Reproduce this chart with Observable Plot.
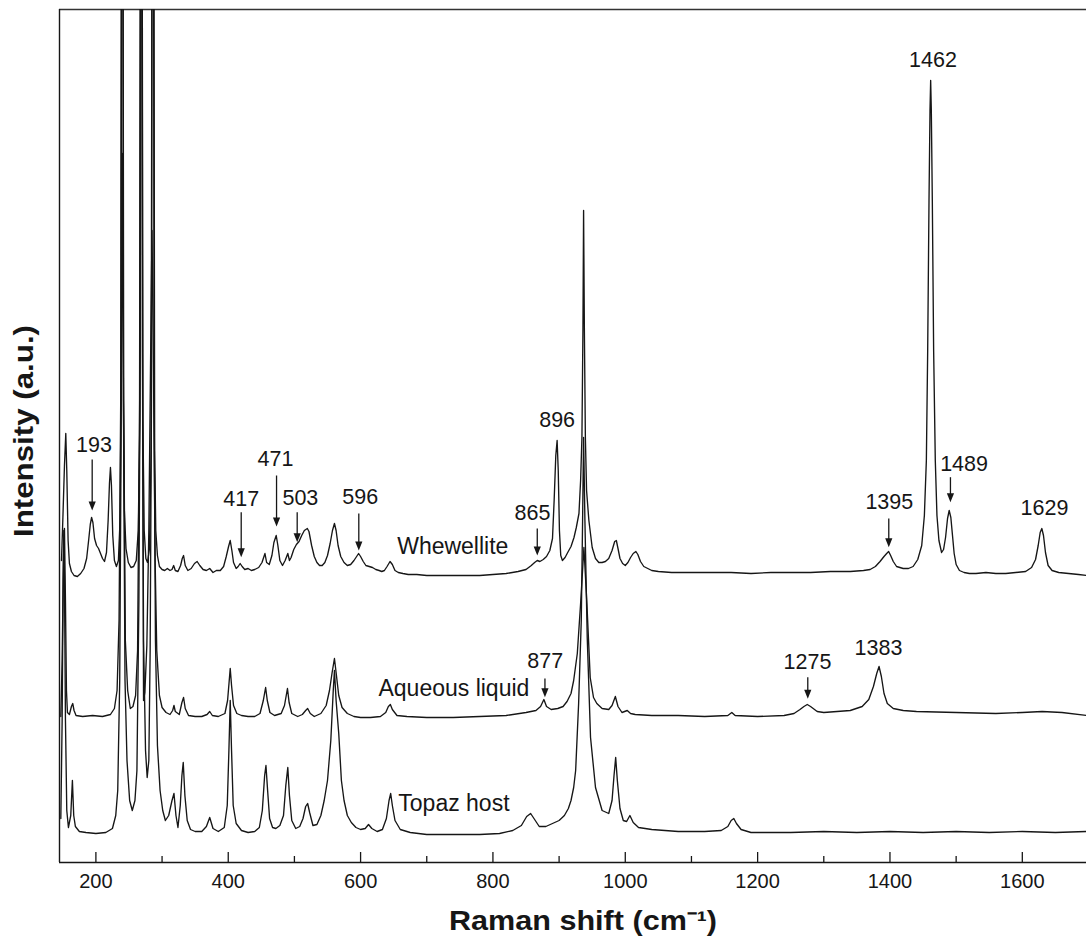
<!DOCTYPE html>
<html><head><meta charset="utf-8">
<script src="https://cdn.jsdelivr.net/npm/d3@7"></script>
<script src="https://cdn.jsdelivr.net/npm/@observablehq/plot@0.6"></script>
<style>body{margin:0;background:#fff;} #chart svg{display:block;}</style>
</head><body><div id="chart"></div>
<script>
// Raman spectra, [wavenumber (cm-1), intensity (a.u., stacked)]
const whewellite = [[148,302],[150,342],[152.5,397],[154.5,429],[156,392],[158,322],[160,299],[163,291],[167,287],[172,286],[177,289],[182,294],[186,304],[189,322],[191.5,338],[193.5,345],[195.5,340],[198,324],[201,317],[204,314],[207,309],[210,304],[213,301],[216,310],[218.5,342],[220.5,379],[222,395],[223.5,377],[225.5,327],[228,302],[231,296],[234,302],[236.5,342],[238,462],[239.8,1600],[241.6,462],[243,352],[245.5,314],[249,300],[253,295],[257,296],[261,302],[264,332],[266.5,442],[268.7,1600],[271,442],[273,332],[275.5,304],[278,300],[281,314],[283.5,412],[286.3,1600],[288.8,412],[290.5,332],[293,307],[296,296],[300,293],[304,292],[308,294],[312,292],[315,293],[317.5,297],[320,292],[324,291],[328,297],[330.5,304],[332.5,307],[335,297],[339,292],[344,294],[349,299],[353,301],[357,297],[362,293],[367,292],[372,294],[377,290],[382,292],[388,292],[393,296],[397,306],[400.5,316],[403,322],[405.5,312],[408,300],[412,294],[415,296],[418,299],[421,296],[425,293],[430,294],[435,292],[440,293],[446,295],[451,300],[455.5,309],[458,300],[462,298],[466,307],[469,320],[472.5,327],[475,317],[478,302],[482,297],[486,302],[490,309],[492.5,302],[495,305],[499,313],[503,318],[507,321],[511,327],[515,332],[519.5,334],[522,331],[526,317],[530,306],[534,300],[538,297],[542,297],[546,300],[550,307],[554,319],[557.5,332],[560.5,339],[563,332],[566,317],[570,306],[575,300],[580,297],[585,298],[590,302],[594,306],[597,309],[600,306],[604,301],[608,297],[613,296],[618,295],[623,293],[628,292],[632,291],[636,292],[640,296],[644.5,301],[648,298],[652,292],[657,290],[664,289],[672,288],[685,288],[700,287],[720,287],[740,287],[760,287],[780,287],[800,288],[820,289],[838,291],[850,293],[858,297],[863,300],[867,302],[871,301],[876,303],[881,306],[886,312],[890,324],[892.5,362],[895,407],[897,422],[898.7,392],[900.5,332],[902.5,307],[905,302],[909,305],[913,310],[918,316],[922.5,325],[926,335],[930,349],[932.5,382],[934.5,425],[936,532],[937,652],[938.2,532],[939.7,425],[941.5,372],[945,342],[950,315],[955,304],[960,300],[965,300],[970,301],[975,304],[980,312],[984,321],[986.5,322],[989,314],[992,304],[996,299],[1000,297],[1004,300],[1008,305],[1012,309],[1016,311],[1019,308],[1023,301],[1028,296],[1034,294],[1040,292],[1050,291],[1070,290],[1100,290],[1130,290],[1160,290],[1190,289],[1220,290],[1250,290],[1280,290],[1310,291],[1340,291],[1360,292],[1370,293],[1378,296],[1385,301],[1391,306],[1395,309],[1398,311],[1401,307],[1405,301],[1410,296],[1415,295],[1420,294],[1428,294],[1435,296],[1442,303],[1448,317],[1452,347],[1455,402],[1457,512],[1459,662],[1460.5,752],[1461.5,782],[1462.5,752],[1464,662],[1466,512],[1468.5,402],[1471,347],[1474,322],[1478,310],[1481,313],[1484,325],[1487,344],[1489.5,352],[1492,345],[1494.5,327],[1497,309],[1500,298],[1505,292],[1512,290],[1520,289],[1530,289],[1545,290],[1560,289],[1575,289],[1590,290],[1605,291],[1614,295],[1620,303],[1624,317],[1627,330],[1629.5,334],[1632,327],[1635,310],[1639,297],[1645,292],[1655,290],[1670,289],[1685,288],[1697,287]];

const aqueous = [[147,146],[149,202],[151,302],[152.5,334],[154,262],[155.5,172],[157,150],[160,148],[163,156],[165,159],[167,152],[170,147],[180,146],[195,147],[210,146],[222,148],[228,154],[232,172],[235,242],[237.5,462],[239.8,1600],[242,462],[244.5,222],[248,172],[252,154],[256,156],[260,167],[263,212],[266,462],[268.7,1600],[270.7,462],[272,162],[274,170],[277,217],[280,332],[282.5,492],[284.8,632],[287,492],[289.5,302],[292,212],[296,167],[300,155],[306,150],[312,148],[316,152],[318,157],[320,151],[326,148],[330,160],[332.5,165],[335,154],[340,147],[350,146],[360,146],[368,148],[372,151],[376,147],[385,146],[395,149],[399,162],[401.5,182],[403,194],[405,177],[408,157],[413,149],[420,147],[430,146],[440,146],[448,149],[453,162],[456.5,175],[459,162],[463,150],[470,147],[480,149],[485,157],[489.5,174],[492,160],[496,149],[505,146],[512,148],[517,152],[520,154],[524,149],[530,146],[540,149],[548,157],[553,172],[557,190],[560.5,204],[563,190],[567,167],[572,155],[580,149],[590,146],[600,145],[615,145],[630,146],[638,150],[642,156],[645,158],[648,153],[655,147],[670,146],[700,145],[740,145],[780,146],[820,147],[850,150],[865,152],[872,156],[877,163],[881,156],[888,153],[898,154],[906,156],[912,161],[918,169],[922,182],[927.5,209],[932.5,259],[937.5,315],[942,259],[947,185],[952,165],[957,159],[965,154],[975,153],[980,157],[985,166],[989,156],[995,150],[1003,152],[1008,149],[1015,148],[1040,147],[1080,147],[1120,146],[1155,147],[1161,150],[1166,147],[1200,146],[1240,147],[1255,149],[1264,153],[1270,156],[1275,158],[1280,156],[1290,151],[1300,150],[1320,151],[1340,152],[1358,156],[1368,163],[1375,176],[1380,189],[1383.5,196],[1387,186],[1391,169],[1396,159],[1405,154],[1420,152],[1440,151],[1500,150],[1560,149],[1600,150],[1630,151],[1660,150],[1697,147]];

const topaz = [[147,44],[149,142],[150.5,282],[151.5,332],[152.5,282],[154,142],[156,52],[158.5,35],[162,47],[164.5,82],[166.5,47],[169,36],[175,31],[185,30],[200,29],[215,30],[225,34],[230,47],[233,72],[236,182],[238,412],[240,709],[242,412],[244,182],[247,102],[251,62],[255,52],[259,62],[262,92],[265,262],[267,512],[268.7,1600],[270.3,512],[272,222],[275,112],[277.5,85],[280,102],[282,212],[284,462],[286,1600],[288,462],[290,222],[293,117],[297,72],[301,52],[305,42],[310,47],[315,62],[318,69],[321,47],[324,35],[327.5,57],[330,87],[332,100],[334.5,67],[338,42],[343,33],[350,31],[360,31],[367,36],[372,45],[377,34],[385,31],[394,35],[398.5,57],[401,112],[403,162],[405,112],[407.5,57],[412,39],[420,32],[430,30],[440,31],[447,35],[451.5,52],[455,87],[457,97],[459.5,72],[462.5,44],[467,35],[472,34],[478,37],[483.5,47],[487,77],[490,95],[492.5,67],[496,42],[502,34],[508,36],[513,44],[517,56],[520,59],[523,50],[528,37],[534,38],[540,47],[545,62],[550,82],[555,122],[558.7,172],[560.5,192],[563,162],[567,129],[571,82],[575,62],[580,47],[586,40],[593,35],[600,33],[607,34],[612,38],[617,34],[625,31],[633,33],[639,44],[643,62],[645.5,69],[648,57],[652,42],[660,33],[675,30],[700,28],[740,28],[780,28],[810,29],[830,32],[843,37],[851,46],[857,49],[863,43],[870,36],[880,36],[890,39],[900,42],[908,47],[914,54],[918,62],[922,75],[925,92],[929.5,159],[933.5,242],[935.5,342],[937,425],[939,342],[942.5,225],[947.5,125],[955,75],[965,52],[975,49],[980,62],[983,87],[985.5,105],[988,82],[992,54],[997,42],[1002,41],[1007,47],[1012,40],[1020,35],[1040,33],[1080,31],[1120,31],[1145,32],[1155,36],[1160,42],[1164,44],[1168,39],[1175,33],[1190,30],[1250,30],[1300,31],[1350,30],[1400,31],[1450,30],[1500,31],[1550,30],[1600,31],[1650,30],[1697,31]];

// axis
const xDomain = [145, 1697];
const yDomain = [0, 853];
const xTicksMajor = [200, 400, 600, 800, 1000, 1200, 1400, 1600];
const xTicksMinor = [300, 500, 700, 900, 1100, 1300, 1500];
const xTitle = "Raman shift (cm⁻¹)";
const yTitle = "Intensity (a.u.)";

// peak annotations
const peakText = ["193", "417", "471", "503", "596", "865", "896", "877", "1462", "1395", "1489", "1629", "1275", "1383"];
const peakTextX = [197, 419.7, 471.4, 509, 599.4, 859.8, 897, 879, 1465, 1399, 1512, 1633.5, 1275.4, 1382.6];
const peakTextY = [417, 363.5, 403, 364, 365, 349, 442, 201, 802, 360, 398.5, 354, 200.5, 214];

// arrows: position, shaft top, tip
const arrowX = [194.4, 419.6, 473, 504.2, 597.3, 867, 878.6, 1398.2, 1491.4, 1275.8];
const arrowTop = [403, 350.3, 387, 350.3, 349, 334, 184, 344, 385.3, 185.3];
const arrowTip = [352, 305.3, 336, 320.3, 312, 307, 165.3, 315.3, 360.3, 163.7];

// spectrum names
const seriesName = ["Whewellite", "Aqueous liquid", "Topaz host"];
const seriesNameX = [655.3, 627, 657];
const seriesNameY = [316, 174, 59];

const ink = "#161616";
const font = "'Liberation Sans', Arial, Helvetica, sans-serif";
const headDown = {draw(ctx) { ctx.moveTo(0, 0); ctx.lineTo(-3.6, -9); ctx.lineTo(3.6, -9); ctx.closePath(); }};

const spec = (arr) => Plot.line(arr, {x: d => d[0], y: d => d[1], clip: true, stroke: ink, strokeWidth: 1.35, strokeLinejoin: "round"});
const pIdx = peakText.map((_, i) => i);
const aIdx = arrowX.map((_, i) => i);
const sIdx = seriesName.map((_, i) => i);

const chart = Plot.plot({
  width: 1086, height: 940,
  marginLeft: 59, marginRight: 0, marginTop: 9, marginBottom: 78,
  x: {domain: xDomain},
  y: {domain: yDomain, axis: null},
  style: {fontFamily: font, fontSize: "20px", color: ink, background: "#fff"},
  marks: [
    Plot.ruleY([yDomain[0]], {stroke: ink, strokeWidth: 1.4}),
    Plot.ruleY([yDomain[1]], {stroke: "#333", strokeWidth: 1.4}),
    Plot.ruleX([xDomain[0]], {stroke: ink, strokeWidth: 1.4}),
    Plot.ruleX(xTicksMajor, {insetTop: 843, stroke: ink, strokeWidth: 1.3}),
    Plot.ruleX(xTicksMinor, {insetTop: 847, stroke: ink, strokeWidth: 1.3}),
    Plot.axisX({ticks: xTicksMajor, tickSize: 0, tickPadding: 11, tickFormat: d => String(d), label: null, fontSize: 20, fill: ink}),
    spec(whewellite),
    spec(aqueous),
    spec(topaz),
    Plot.link(aIdx, {x1: i => arrowX[i], x2: i => arrowX[i], y1: i => arrowTop[i], y2: i => arrowTip[i] + 5, stroke: ink, strokeWidth: 1.3}),
    Plot.dot(aIdx, {x: i => arrowX[i], y: i => arrowTip[i], symbol: headDown, fill: ink, stroke: "none"}),
    Plot.text(pIdx, {x: i => peakTextX[i], y: i => peakTextY[i], text: i => peakText[i], fontSize: 21.5, fill: ink}),
    Plot.text(sIdx, {x: i => seriesNameX[i], y: i => seriesNameY[i], text: i => seriesName[i], textAnchor: "start", fontSize: 23, fill: ink}),
    Plot.text([xTitle], {text: d => d, frameAnchor: "bottom", textAnchor: "middle", dx: 10, dy: 67, fontSize: 28, fontWeight: "bold", fill: ink}),
    Plot.text([yTitle], {text: d => d, frameAnchor: "left", textAnchor: "middle", rotate: -90, dx: -35, dy: -5, fontSize: 28, fontWeight: "bold", fill: ink})
  ]
});
document.getElementById("chart").appendChild(chart);
// stretch the axis titles to the widths they have in the figure
d3.select(chart).selectAll("text")
  .filter(function() { return this.textContent === xTitle; })
  .attr("textLength", 268).attr("lengthAdjust", "spacingAndGlyphs");
d3.select(chart).selectAll("text")
  .filter(function() { return this.textContent === yTitle; })
  .attr("textLength", 212).attr("lengthAdjust", "spacingAndGlyphs");
</script>
</body></html>
